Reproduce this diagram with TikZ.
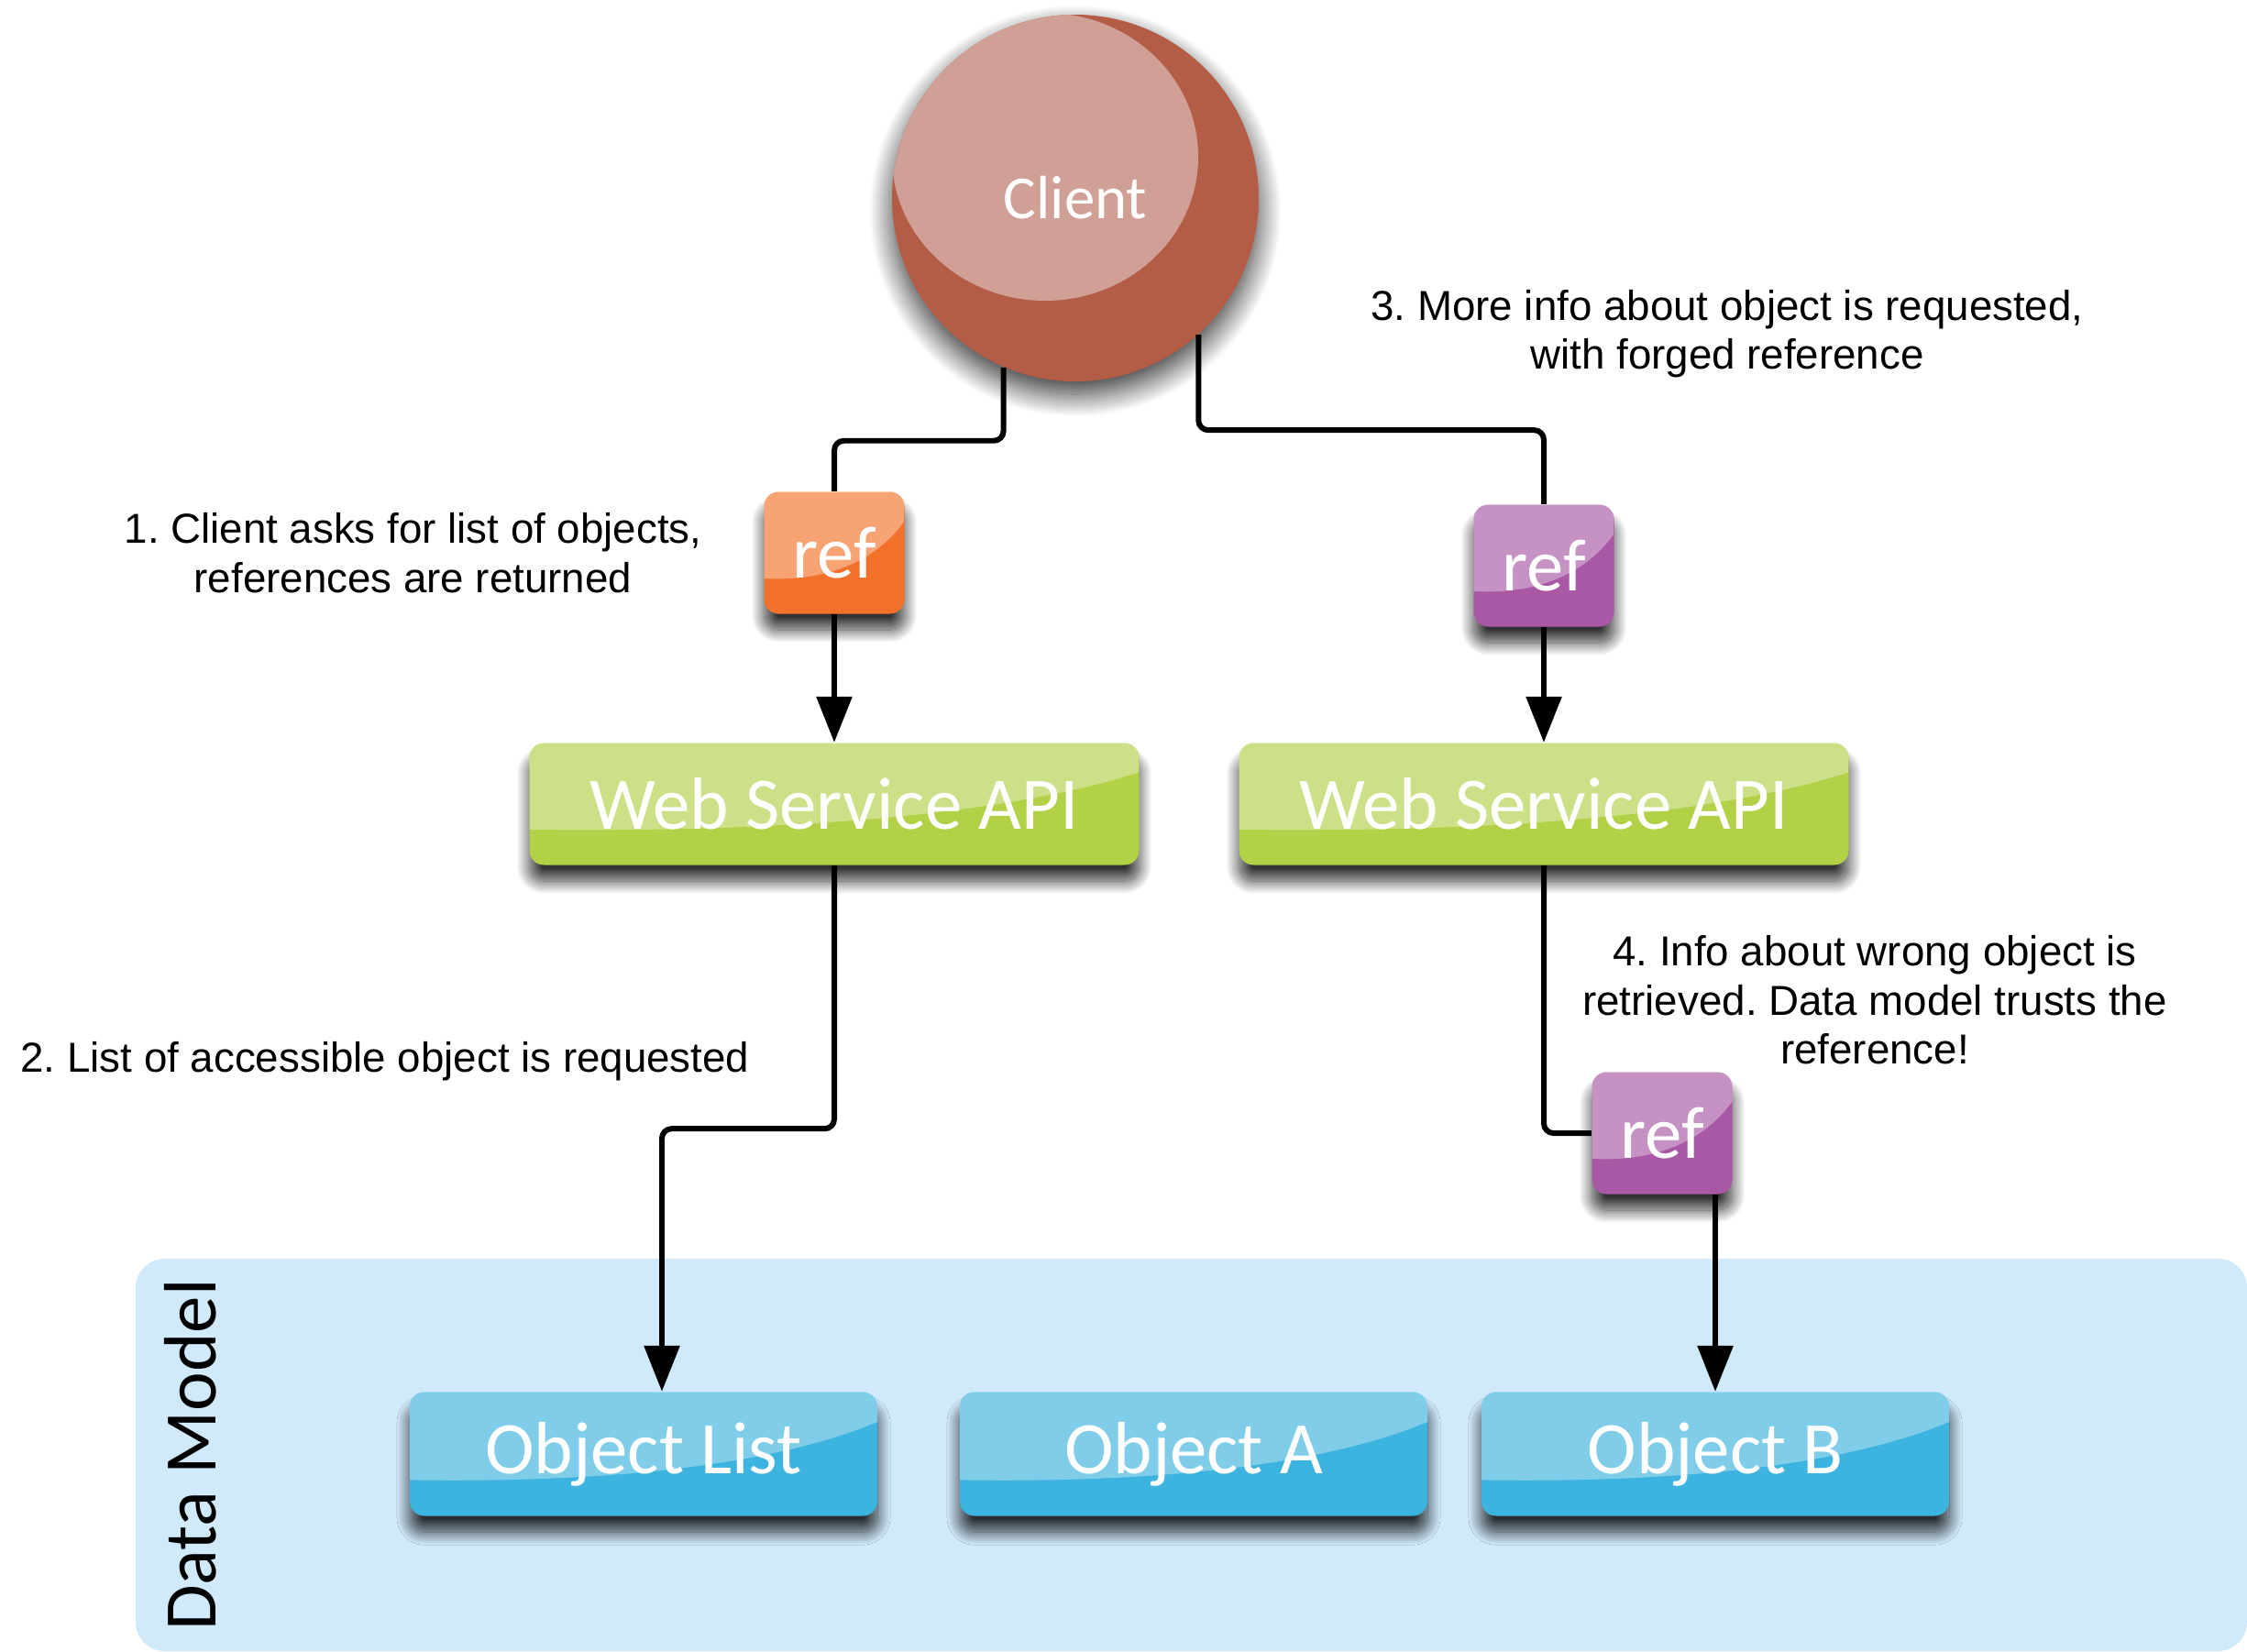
\documentclass[tikz,border=0pt]{standalone}
\usepackage{fontspec}
\setmainfont{Liberation Sans}
\newfontfamily\boxfont{Carlito}
\usetikzlibrary{arrows.meta,positioning,calc,shadows.blur}
\definecolor{ClientRed}{HTML}{B35D47}
\definecolor{ClientPink}{HTML}{D09F95}
\definecolor{RefOrange}{HTML}{F3722B}
\definecolor{RefPurple}{HTML}{A858A4}
\definecolor{ApiGreen}{HTML}{B2D147}
\definecolor{ObjBlue}{HTML}{3DB3E0}
\definecolor{ModelBg}{HTML}{D0E9FB}
\frenchspacing

\begin{document}
\begin{tikzpicture}[node distance=5.5mm,
    gloss/.style={path picture={
      \fill[white,opacity=.35,sharp corners]
        let \p1=(path picture bounding box.south west), \p2=(path picture bounding box.north east),
            \n1={\x2-\x1}, \n2={\y2-\y1} in
        (\x1,\y2) -- (\x1,\y1+.29*\n2) .. controls (\x1+.5*\n1,\y1+.26*\n2) and (\x1+.82*\n1,\y1+.47*\n2)
        .. (\x2,\y1+.76*\n2) -- (\x2,\y2) -- cycle;}},
    box/.style={rounded corners=4.5pt,inner sep=0pt,minimum height=1.33cm,text=white,
      font=\boxfont\fontsize{23}{27}\selectfont,gloss,
      blur shadow={shadow xshift=0pt,shadow yshift=-5pt,shadow blur radius=4pt,
        shadow blur steps=25,shadow opacity=80}},
    refbox/.style={box,fill=#1,minimum width=1.53cm},
    api/.style={box,fill=ApiGreen,minimum width=6.65cm},
    obj/.style={box,fill=ObjBlue,minimum width=5.1cm,minimum height=1.35cm},
    lbl/.style={align=center,font=\fontsize{13}{15.2}\selectfont},
    c/.style={line width=1.7pt,rounded corners=3pt},
    a/.style={c,-{Triangle[length=5mm,width=3.8mm]}}]
  \useasboundingbox (0,0) rectangle (24.51,-18.01);

  % data model area
  \fill[ModelBg,rounded corners=9pt] (1.48,-13.73) rectangle (24.51,-18.01);
  \node[rotate=90,font=\boxfont\fontsize{23}{27}\selectfont] (dm) at (2.08,-15.87) {Data Model};

  \node[circle,minimum size=4cm,fill=ClientRed,text=white,
    font=\boxfont\fontsize{19}{23}\selectfont,
    blur shadow={shadow xshift=0pt,shadow yshift=-4pt,shadow blur radius=7pt,
      shadow blur steps=25,shadow opacity=80},
    path picture={\fill[ClientPink] ($(path picture bounding box.center)+(-0.33,0.45)$) ellipse [x radius=1.67cm,y radius=1.57cm];}]
    (client) at (11.73,-2.16) {Client};

  \node[refbox=RefOrange] (ref1) at (9.10,-6.03) {ref};
  \node[refbox=RefPurple] (ref2) at (16.84,-6.17) {ref};
  \node[api] (api1) at (9.10,-8.77) {Web Service API};
  \node[api] (api2) at (16.84,-8.77) {Web Service API};
  \node[refbox=RefPurple] (ref3) at (18.13,-12.36) {ref};

  \node[obj] (objlist) at (7.02,-15.86) {Object List};
  \node[obj] (obja) at (13.02,-15.86) {Object A};
  \node[obj] (objb) at (18.71,-15.86) {Object B};

  % step texts
  \node[lbl,left=of ref1] (step1) {1. Client asks for list of objects,\\references are returned};
  \node[lbl] (step2) at (4.20,-11.58) {2. List of accessible object is requested};
  \node[lbl] (step3) at (18.84,-3.64) {3. More info about object is requested,\\with forged reference};
  \node[lbl] (step4) at (20.45,-10.91) {4. Info about wrong object is\\retrieved. Data model trusts the\\reference!};

  % connectors
  \draw[c] (client.247) -- ++(0,-0.80) -| (ref1.north);
  \draw[a] (ref1.south) -- (api1.north);
  \draw[a] (api1.south) -- ++(0,-2.87) -| ($(objlist.north)+(0.2,0)$);
  \draw[c] (client.312) -- ++(0,-1.04) -| (ref2.north);
  \draw[a] (ref2.south) -- (api2.north);
  \draw[c] (api2.south) |- (ref3.west);
  \draw[a] (ref3.south -| objb.north) -- (objb.north);
\end{tikzpicture}
\end{document}
